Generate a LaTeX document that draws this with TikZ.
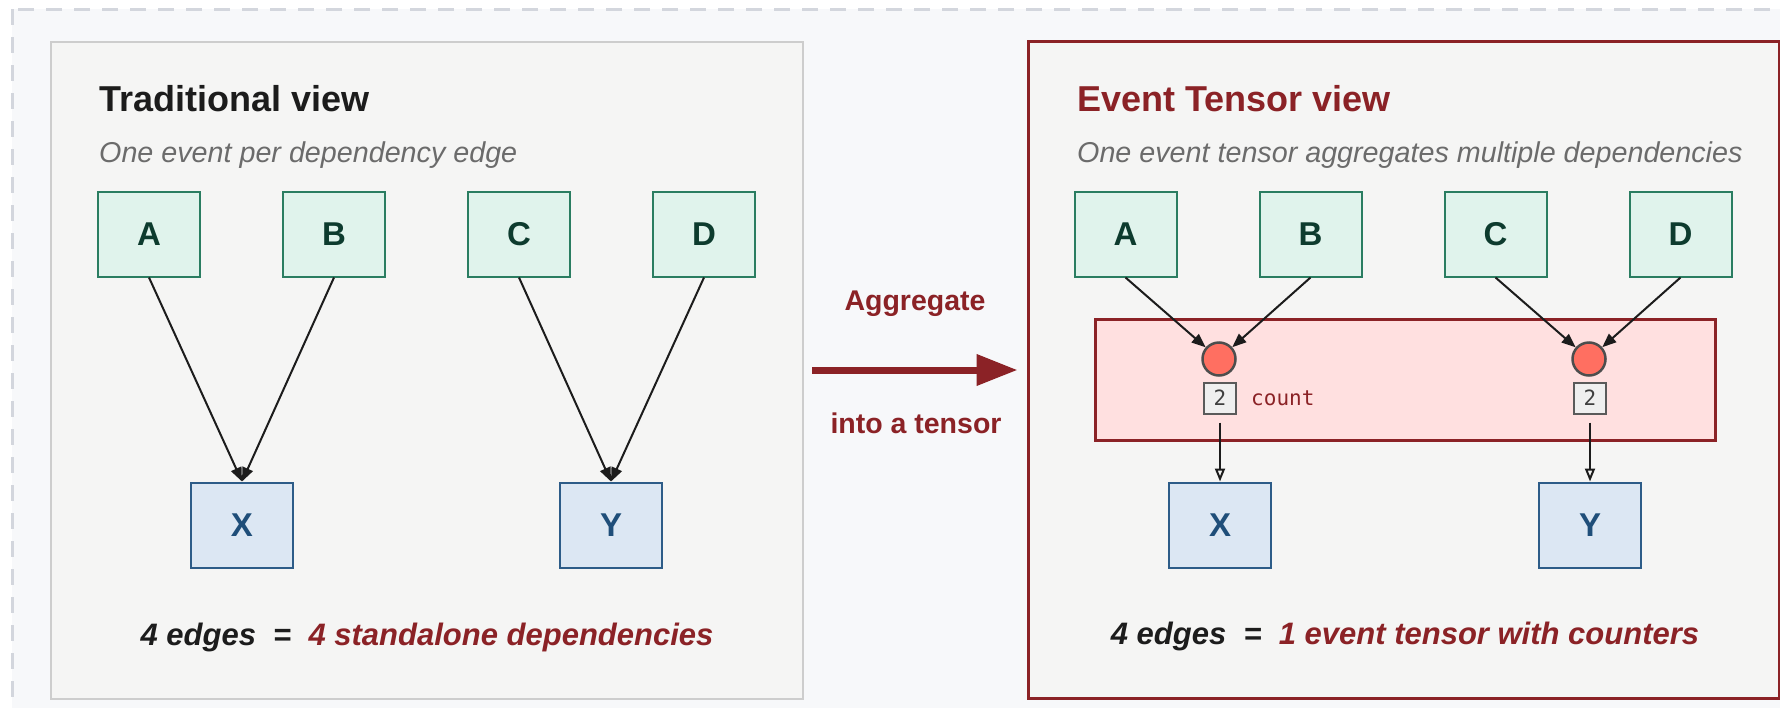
\documentclass[tikz,border=0pt]{standalone}
\usepackage{fontspec}
\setmainfont{Liberation Sans}
\setmonofont{DejaVu Sans Mono}
\usetikzlibrary{shapes.geometric, arrows.meta}

\definecolor{tensorred}{HTML}{8B2226}
\definecolor{framegray}{HTML}{D3D6DD}
\definecolor{framefill}{HTML}{F7F8FA}
\definecolor{panelfill}{HTML}{F5F5F4}
\definecolor{panelgray}{HTML}{CDCDCD}
\definecolor{srcfill}{HTML}{E0F3EC}
\definecolor{srcline}{HTML}{2A7D61}
\definecolor{srctext}{HTML}{0D3B2E}
\definecolor{dstfill}{HTML}{DCE7F3}
\definecolor{dstline}{HTML}{2D5C88}
\definecolor{dsttext}{HTML}{1F4E79}
\definecolor{tensorfill}{HTML}{FFE0E0}
\definecolor{eventfill}{HTML}{FF6F61}
\definecolor{eventline}{HTML}{4D4D4D}
\definecolor{countfill}{HTML}{EFEFEF}
\definecolor{countline}{HTML}{5A5A5A}
\definecolor{subgray}{HTML}{6B6B6B}
\definecolor{inkblack}{HTML}{1C1C1C}

\tikzstyle{frame} = [draw=framegray, fill=framefill, line width=3pt, dash pattern=on 16pt off 12pt]
\tikzstyle{panel} = [rectangle, draw=panelgray, line width=2pt, fill=panelfill, minimum width=752pt, minimum height=657pt]
\tikzstyle{heading} = [anchor=base west, inner sep=0pt, text=inkblack, font=\fontsize{36}{43}\selectfont\bfseries]
\tikzstyle{subheading} = [anchor=base west, inner sep=0pt, text=subgray, font=\fontsize{28.7}{34}\selectfont\itshape]
\tikzstyle{src} = [rectangle, draw=srcline, line width=2pt, fill=srcfill, text=srctext, minimum width=102pt, minimum height=85pt, inner sep=0pt, font=\fontsize{33}{40}\selectfont\bfseries]
\tikzstyle{dst} = [src, draw=dstline, fill=dstfill, text=dsttext]
\tikzstyle{tensorbox} = [rectangle, draw=tensorred, line width=3pt, fill=tensorfill, minimum width=620pt, minimum height=121pt]
\tikzstyle{event} = [circle, draw=eventline, line width=2.5pt, fill=eventfill, minimum size=33pt, inner sep=0pt]
\tikzstyle{counter} = [rectangle, draw=countline, line width=2pt, fill=countfill, text=inkblack!85, minimum width=32pt, minimum height=31pt, inner sep=0pt, font=\fontsize{21}{25}\selectfont\ttfamily]
\tikzstyle{countlabel} = [anchor=base west, inner sep=0pt, text=tensorred, font=\fontsize{21}{25}\selectfont\ttfamily]
\tikzstyle{midlabel} = [anchor=base, inner sep=0pt, text=tensorred, font=\fontsize{28.5}{34}\selectfont\bfseries]
\tikzstyle{summary} = [anchor=base, inner sep=0pt, text=inkblack, font=\fontsize{31}{37}\selectfont\bfseries\itshape]
\tikzstyle{arrow} = [line width=2pt, draw=inkblack, ->, >={Triangle[length=14pt, width=11pt]}]
\tikzstyle{openarrow} = [line width=2pt, draw=inkblack, -{Triangle[open, length=13pt, width=10pt]}]
\tikzstyle{bigarrow} = [line width=7pt, draw=tensorred, -{Triangle[length=41pt, width=30pt]}]

\begin{document}
\begin{tikzpicture}[x=1pt, y=-1pt, node distance=185pt]
  \path [use as bounding box, clip] (0,0) rectangle (1780,707);
  \fill [white] (0,0) rectangle (1780,707);
  \draw [frame] (12,9) rectangle (1860,790);

  \node (trad) [panel] at (427,370) {};
  \node (tens) [panel, draw=tensorred, line width=3pt, minimum width=751pt] at (1403.5,370) {};

  \node (tradtitle) [heading] at (99,111) {Traditional view};
  \node (tradsub) [subheading] at (99,162) {One event per dependency edge};
  \node (ta) [src] at (149,234) {A};
  \node (tb) [src, right of=ta] {B};
  \node (tc) [src, right of=tb] {C};
  \node (td) [src, right of=tc] {D};
  \node (tx) [dst] at (242,525) {X};
  \node (ty) [dst] at (611,525) {Y};
  \draw [arrow] (ta.south) -- (tx.north);
  \draw [arrow] (tb.south) -- (tx.north);
  \draw [arrow] (tc.south) -- (ty.north);
  \draw [arrow] (td.south) -- (ty.north);
  \node (tradsum) [summary] at (427,645) {4 edges~~=~~\textcolor{tensorred}{4 standalone dependencies}};

  \node (agg) [midlabel] at (915,310) {Aggregate};
  \node (into) [midlabel] at (916,433) {into a tensor};
  \draw [bigarrow, shorten <=8pt, shorten >=9pt] (trad) -- (tens);

  \node (tenstitle) [heading, text=tensorred] at (1077,111) {Event Tensor view};
  \node (tenssub) [subheading] at (1077,162) {One event tensor aggregates multiple dependencies};
  \node (ea) [src] at (1125.5,234) {A};
  \node (eb) [src, right of=ea] {B};
  \node (ec) [src, right of=eb] {C};
  \node (ed) [src, right of=ec] {D};
  \node (tensor) [tensorbox] at (1405,380) {};
  \node (ev1) [event] at (1219,359) {};
  \node (ev2) [event] at (1589,359) {};
  \node (k1) [counter] at (1220,398) {2};
  \node (k2) [counter] at (1590,398) {2};
  \node (klabel) [countlabel] at (1251,405) {count};
  \node (ex) [dst] at (1220,525) {X};
  \node (ey) [dst] at (1590,525) {Y};
  \draw [arrow] (ea.south) -- (ev1);
  \draw [arrow] (eb.south) -- (ev1);
  \draw [arrow] (ec.south) -- (ev2);
  \draw [arrow] (ed.south) -- (ev2);
  \draw [openarrow, shorten <=8pt] (k1) -- (ex);
  \draw [openarrow, shorten <=8pt] (k2) -- (ey);
  \node (tenssum) [summary] at (1405,644) {4 edges~~=~~\textcolor{tensorred}{1 event tensor with counters}};
\end{tikzpicture}
\end{document}
